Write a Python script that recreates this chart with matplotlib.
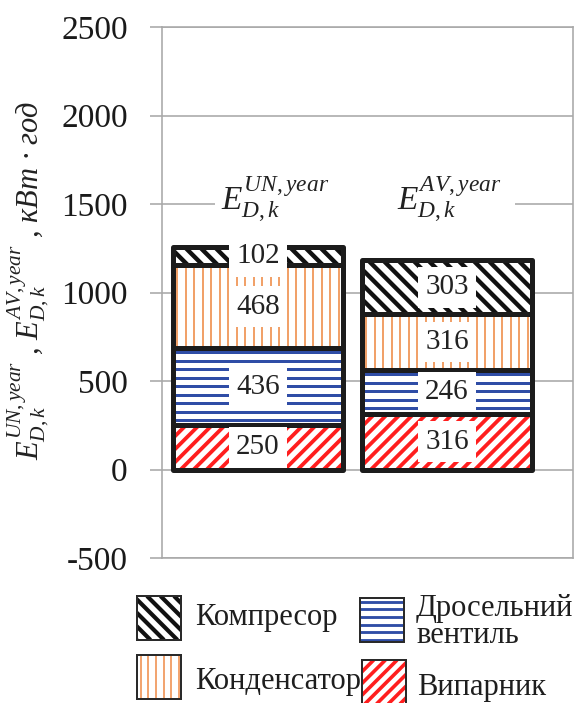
import numpy as np
import matplotlib
matplotlib.use("Agg")
import matplotlib.pyplot as plt
from matplotlib.patches import Rectangle
from matplotlib.collections import LineCollection
from matplotlib.transforms import IdentityTransform

# ---- data -------------------------------------------------------------
scenarios = [r"$E_{D,k}^{UN,year}$", r"$E_{D,k}^{AV,year}$"]
components = ["Випарник", "Дросельний\nвентиль", "Конденсатор", "Компресор"]
evaporator = [250, 316]
throttle = [436, 246]
condenser = [468, 316]
compressor = [102, 303]
series = [evaporator, throttle, condenser, compressor]
y_ticks = [-500, 0, 500, 1000, 1500, 2000, 2500]
y_label = r"$E_{D,k}^{UN,year}$ , $E_{D,k}^{AV,year}$ , кВт · год"

# ---- styles -----------------------------------------------------------
# (kind, colour, spacing px, line width px)
hatch_styles = [
    ("/", "#FF1E1E", 13, 3.8),
    ("-", "#2F4DA6", 8.5, 3.0),
    ("|", "#EE8A45", 8.5, 1.6),
    ("\\", "#111111", 15, 4.4),
]
GRID = "#A8A8A8"
SERIF = "Liberation Serif"

plt.rcParams["mathtext.fontset"] = "custom"
plt.rcParams["mathtext.rm"] = SERIF
plt.rcParams["mathtext.it"] = SERIF + ":italic"
plt.rcParams["font.family"] = [SERIF, "DejaVu Serif"]

W, H, DPI = 582, 703, 100
fig = plt.figure(figsize=(W / DPI, H / DPI), dpi=DPI)
fig.patch.set_facecolor("white")

ax = fig.add_axes([162 / W, 1 - 558 / H, (573 - 162) / W, (558 - 27) / H])
ax.set_xlim(-0.508, 1.667)
ax.set_ylim(-500, 2500)

PX = 72 / DPI  # points per pixel


def hatch_lines(patch, kind, color, spacing, lw, zorder, container):
    """Clip a set of parallel stripes to the given patch (pixel space)."""
    bb = patch.get_window_extent()
    x0, y0, x1, y1 = bb.x0, bb.y0, bb.x1, bb.y1
    h = y1 - y0
    segs = []
    if kind == "|":
        for x in np.arange(x0 + spacing / 2, x1, spacing):
            segs.append([(x, y0), (x, y1)])
    elif kind == "-":
        for y in np.arange(y1 - spacing / 2, y0, -spacing):
            segs.append([(x0, y), (x1, y)])
    elif kind == "/":
        for c in np.arange(x0 - h, x1 + spacing, spacing):
            segs.append([(c, y0), (c + h, y1)])
    elif kind == "\\":
        for c in np.arange(x0 - h, x1 + spacing, spacing):
            segs.append([(c, y1), (c + h, y0)])
    lc = LineCollection(segs, colors=color, linewidths=lw * PX,
                        transform=IdentityTransform(), zorder=zorder,
                        capstyle="butt")
    if container is ax:
        ax.add_collection(lc, autolim=False)
    else:
        fig.add_artist(lc)
    # clip after adding, so the container does not replace it
    lc.set_clip_path(patch)
    return lc


# ---- axes styling ------------------------------------------------------
for s in ax.spines.values():
    s.set_color(GRID)
    s.set_linewidth(1.6 * PX)
ax.set_yticks(y_ticks)
ax.set_yticklabels([str(t) for t in y_ticks])
ax.tick_params(axis="y", direction="out", length=12 * PX, width=1.6 * PX,
               color=GRID, pad=16, labelsize=24, labelcolor="#1A1A1A")
ax.set_xticks([])
ax.yaxis.grid(True, color=GRID, linewidth=1.6 * PX, zorder=0)
ax.set_axisbelow(True)

# ---- stacked bars ------------------------------------------------------
x = np.arange(len(scenarios))
width = 0.9
bottom = np.zeros(len(scenarios))
for vals, (kind, col, sp, lw) in zip(series, hatch_styles):
    vals = np.asarray(vals, dtype=float)
    bars = ax.bar(x, vals, width, bottom=bottom, color="white",
                  edgecolor="none", zorder=2)
    for b in bars:
        hatch_lines(b, kind, col, sp, lw, 2.2, ax)
    ax.bar(x, vals, width, bottom=bottom, fill=False, edgecolor="#1C1C1C",
           linewidth=5 * PX, zorder=4, joinstyle="round")
    for xi, v, b0 in zip(x, vals, bottom):
        ax.text(xi, b0 + v / 2, f"{v:.0f}", ha="center", va="center",
                fontsize=21, color="#222222", zorder=5,
                bbox=dict(boxstyle="square,pad=0.25", facecolor="white",
                          edgecolor="none"))
    bottom += vals

# ---- scenario captions --------------------------------------------------
ax.add_patch(Rectangle((-0.23, 1440), 1.59, 180, facecolor="white",
                       edgecolor="none", zorder=1))
for xi, lab, dx in zip(x, scenarios, [0.09, 0.01]):
    ax.text(xi + dx, 1530, lab, ha="center", va="center", fontsize=24,
            color="#222222", zorder=3)

# ---- y label -------------------------------------------------------------
fig.text(28 / W, 1 - 281 / H, y_label, rotation=90, ha="center",
         va="center", fontsize=22, fontstyle="italic", color="#222222")

# ---- legend (drawn in pixel space) --------------------------------------
legend_items = [
    # (series index, box left, box top, text x, text y)
    (3, 137, 596, 195, 617),
    (1, 360, 598, 416, 622),
    (2, 137, 655, 195, 682),
    (0, 362, 660, 417, 687),
]
for idx, bx, by, tx, ty in legend_items:
    kind, col, sp, lw = hatch_styles[idx]
    sz = 44
    box = Rectangle((bx, H - by - sz), sz, sz, transform=IdentityTransform(),
                    facecolor="white", edgecolor="none", zorder=5)
    fig.add_artist(box)
    hatch_lines(box, kind, col, sp * 0.9, lw * 0.95, 5.5, fig)
    edge = Rectangle((bx, H - by - sz), sz, sz, transform=IdentityTransform(),
                     fill=False, edgecolor="#2A2A2A", linewidth=2 * PX,
                     zorder=6)
    fig.add_artist(edge)
    fig.text(tx / W, 1 - ty / H, components[idx], ha="left", va="center",
             fontsize=22, color="#1E1E1E", linespacing=0.9)

fig.savefig("out.png", dpi=DPI, facecolor="white")
